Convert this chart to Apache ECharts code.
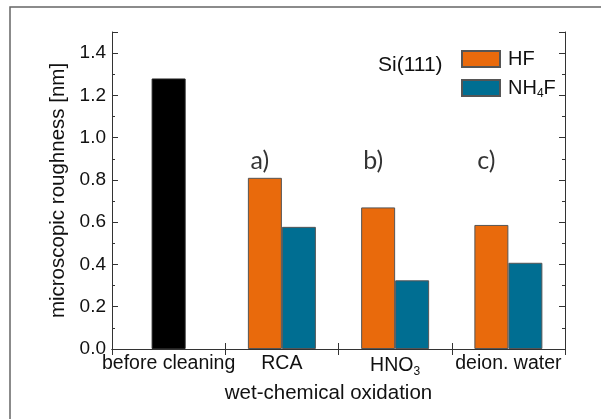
<!DOCTYPE html>
<html>
<head>
<meta charset="utf-8">
<style>
  html, body { margin: 0; padding: 0; background: #fff; }
  #chart { width: 601px; height: 419px; }
</style>
<script src="https://cdn.jsdelivr.net/npm/echarts@6/dist/echarts.min.js"></script>
</head>
<body>
<div id="chart"></div>
<script>
// Treatment groups along the x axis
const categories = ['before cleaning', 'RCA', 'HNO3', 'deion. water'];
// Roughness before any cleaning step (nm)
const beforeValues = [1.28, '-', '-', '-'];
// Roughness after HF etch (nm)
const hfValues = ['-', 0.81, 0.67, 0.587];
// Roughness after NH4F etch (nm)
const nh4fValues = ['-', 0.578, 0.325, 0.408];
// Panel markers over the oxidation groups
const panelLabels = ['', 'a)', 'b)', 'c)'];
const panelLevel = 0.89;
// Y tick settings
const yMin = 0, yMax = 1.5, yStep = 0.2;

const textColor = '#111';
const lineColor = '#333';
const font = 'Arial, "Liberation Sans", sans-serif';

const chart = echarts.init(document.getElementById('chart'));

const subRich = {
  sub: { fontSize: 12, fontFamily: font, color: textColor, padding: [12, 0, 0, 0] }
};

const yAxisBase = {
  type: 'value', min: yMin, max: yMax, interval: yStep,
  axisLine: { show: true, lineStyle: { color: lineColor, width: 1 } },
  axisTick: { show: true, inside: true, length: 6, lineStyle: { color: lineColor } },
  minorTick: { show: true, splitNumber: 2, length: 3, lineStyle: { color: lineColor } },
  splitLine: { show: false },
  minorSplitLine: { show: false }
};

chart.setOption({
  animation: false,
  backgroundColor: '#fff',
  textStyle: { fontFamily: font },
  graphic: [{
    // page frame: only its left and top edges fall inside the canvas
    type: 'polyline',
    shape: { points: [[10, 419], [10, 7], [601, 7]] },
    style: { fill: 'none', stroke: '#666', lineWidth: 1.5 },
    silent: true
  }],
  title: {
    text: 'Si(111)',
    left: 373, top: 50,
    textStyle: { fontSize: 21, fontWeight: 'normal', color: textColor, fontFamily: font }
  },
  legend: {
    orient: 'vertical',
    left: 456, top: 44,
    itemWidth: 38, itemHeight: 16, itemGap: 9,
    icon: 'rect',
    data: ['HF', 'NH4F'],
    formatter: name => name === 'NH4F' ? 'NH{sub|4}F' : name,
    textStyle: {
      fontSize: 20, color: textColor, fontFamily: font,
      padding: [0, 0, 0, 3],
      rich: subRich
    }
  },
  grid: { left: 112, right: 36, top: 32, bottom: 70 },
  xAxis: [{
    type: 'category',
    data: categories,
    position: 'bottom',
    name: 'wet-chemical oxidation',
    nameLocation: 'middle',
    nameGap: 29,
    nameTextStyle: { fontSize: 20.5, color: textColor, fontFamily: font, padding: [0, 20, 0, 0] },
    axisLine: { show: true, lineStyle: { color: lineColor, width: 1 } },
    axisTick: { show: true, inside: true, length: 6, lineStyle: { color: lineColor } },
    axisLabel: {
      interval: 0,
      fontSize: 19.5, color: textColor, fontFamily: font, margin: 5,
      formatter: v => v === 'HNO3' ? 'HNO{sub|3}' : v,
      rich: subRich
    }
  }, {
    type: 'category',
    data: categories,
    position: 'top',
    axisLine: { show: true, lineStyle: { color: lineColor, width: 1 } },
    axisTick: { show: true, inside: true, length: 6, lineStyle: { color: lineColor } },
    axisLabel: { show: false }
  }],
  yAxis: [Object.assign({}, yAxisBase, {
    position: 'left',
    name: 'microscopic roughness [nm]',
    nameLocation: 'middle',
    nameGap: 42,
    nameTextStyle: { fontSize: 20.5, color: textColor, fontFamily: font },
    axisLabel: {
      fontSize: 19, color: textColor, fontFamily: font, margin: 6,
      showMaxLabel: false,
      formatter: v => v.toFixed(1)
    }
  }), Object.assign({}, yAxisBase, {
    position: 'right',
    axisLabel: { show: false }
  })],
  series: [{
    name: 'before',
    type: 'bar',
    xAxisIndex: 1,
    yAxisIndex: 0,
    data: beforeValues,
    barWidth: 34,
    itemStyle: { color: '#000', borderColor: '#222', borderWidth: 1 }
  }, {
    name: 'HF',
    type: 'bar',
    xAxisIndex: 0,
    data: hfValues,
    barWidth: 34,
    barGap: '0%',
    itemStyle: { color: '#E96A0C', borderColor: '#555', borderWidth: 1 }
  }, {
    name: 'NH4F',
    type: 'bar',
    xAxisIndex: 0,
    data: nh4fValues,
    barWidth: 34,
    barGap: '0%',
    itemStyle: { color: '#006E92', borderColor: '#555', borderWidth: 1 }
  }, {
    name: 'panels',
    type: 'scatter',
    xAxisIndex: 0,
    symbolSize: 0,
    silent: true,
    data: panelLabels.map((t, i) => t ? [i, panelLevel] : null).filter(Boolean),
    label: {
      show: true,
      position: 'inside',
      offset: [-22, 0],
      formatter: p => panelLabels[p.data[0]],
      fontSize: 25,
      color: '#000',
      fontFamily: 'Lato, "Open Sans", sans-serif'
    }
  }]
});
</script>
</body>
</html>
